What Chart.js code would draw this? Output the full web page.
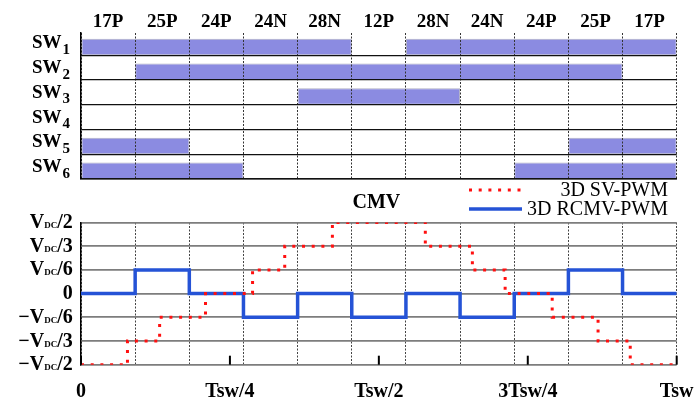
<!DOCTYPE html>
<html>
<head>
<meta charset="utf-8">
<script src="https://cdn.jsdelivr.net/npm/chart.js@4.4.1/dist/chart.umd.min.js"></script>
<style>
  html, body { margin: 0; padding: 0; background: #fff; }
  #wrap { position: relative; width: 696px; height: 399px; overflow: hidden; }
  #wrap canvas { position: absolute; left: 0; top: 0; }
</style>
</head>
<body>
<div id="wrap">
  <canvas id="gates" width="696" height="399"></canvas>
  <canvas id="cmv" width="696" height="399"></canvas>
</div>
<script>
// Space-vector sectors visited during one switching period
const sectorLabels = ['17P', '25P', '24P', '24N', '28N', '12P', '28N', '24N', '24P', '25P', '17P'];

// Switch names (the trailing number is drawn as a subscript)
const switchLabels = ['SW1', 'SW2', 'SW3', 'SW4', 'SW5', 'SW6'];

// Gate state of each switch in each sector (1 = on)
const sw1 = [1, 1, 1, 1, 1, 0, 1, 1, 1, 1, 1];
const sw2 = [0, 1, 1, 1, 1, 1, 1, 1, 1, 1, 0];
const sw3 = [0, 0, 0, 0, 1, 1, 1, 0, 0, 0, 0];
const sw4 = [0, 0, 0, 0, 0, 0, 0, 0, 0, 0, 0];
const sw5 = [1, 1, 0, 0, 0, 0, 0, 0, 0, 1, 1];
const sw6 = [1, 1, 1, 0, 0, 0, 0, 0, 1, 1, 1];
const switchStates = [sw1, sw2, sw3, sw4, sw5, sw6];

// Common-mode voltage, in units of V_DC/6
// 3D SV-PWM: switching instants (fraction of Tsw) and the level that starts there
const svTimes  = [0, 0.078, 0.132, 0.209, 0.288, 0.342, 0.422, 0.578, 0.657, 0.712, 0.791, 0.868, 0.922, 1];
const svLevels = [-3, -2, -1, 0, 1, 2, 3, 2, 1, 0, -1, -2, -3, -3];
// 3D RCMV-PWM: one level per sector
const rcmvLevels = [0, 1, 0, -1, 0, -1, 0, -1, 0, 1, 0];

const cmvTickValues = [3, 2, 1, 0, -1, -2, -3];
const cmvTickLabels = ['V_DC/2', 'V_DC/3', 'V_DC/6', '0', '\u2212V_DC/6', '\u2212V_DC/3', '\u2212V_DC/2'];
const timeTickValues = [0, 0.25, 0.5, 0.75, 1];
const timeTickLabels = ['0', 'Tsw/4', 'Tsw/2', '3Tsw/4', 'Tsw'];
const seriesNames = ['3D SV-PWM', '3D RCMV-PWM'];
const panelTitle = 'CMV';

// ---------------------------------------------------------------
const serif = "'Liberation Serif', 'Times New Roman', serif";
const BAR_COLOR = '#8b8be1';
const SV_COLOR = '#ff1010';
const RCMV_COLOR = '#2553d6';
const BAR_CENTER = 0.665;   // bars sit on the lower part of each row

// Fixed axis box sizes so both panels share the same plot edges
function fixBox(size) {
  return s => {
    if (s.isHorizontal()) s.height = size; else s.width = size;
    s.paddingLeft = s.paddingRight = s.paddingTop = s.paddingBottom = 0;
  };
}

// Contiguous "on" intervals of a gate signal, as [startSector, endSector]
function onIntervals(states) {
  const runs = [];
  let start = null;
  states.forEach((s, k) => {
    if (s && start === null) start = k;
    if (!s && start !== null) { runs.push([start, k]); start = null; }
  });
  if (start !== null) runs.push([start, states.length]);
  return runs;
}

const runsPerRow = switchStates.map(onIntervals);
const maxRuns = Math.max(...runsPerRow.map(r => r.length));
const gateDatasets = [];
for (let r = 0; r < maxRuns; r++) {
  const data = [];
  runsPerRow.forEach((runs, row) => {
    if (runs[r]) data.push({ x: runs[r], y: row + BAR_CENTER });
  });
  gateDatasets.push({
    data,
    backgroundColor: BAR_COLOR,
    borderColor: '#b0b0c4',
    borderWidth: 1,
    borderSkipped: false,
    stack: 'gates',
    categoryPercentage: 1,
    barPercentage: 0.67
  });
}

// Switch names with subscript numbers, left of the rows
const rowLabelPlugin = {
  id: 'rowLabels',
  afterDraw(chart) {
    const { ctx, chartArea } = chart;
    const ys = chart.scales.y;
    const xEnd = chartArea.left - 11;
    ctx.save();
    ctx.fillStyle = '#000';
    ctx.textBaseline = 'alphabetic';
    switchLabels.forEach((label, i) => {
      const m = label.match(/^(\D+)(\d+)$/);
      const yc = ys.getPixelForValue(i + 0.5);
      ctx.font = 'bold 15px ' + serif;
      const ws = ctx.measureText(m[2]).width;
      ctx.textAlign = 'left';
      ctx.fillText(m[2], xEnd - ws, yc + 11);
      ctx.font = 'bold 19px ' + serif;
      ctx.textAlign = 'right';
      ctx.fillText(m[1], xEnd - ws - 1, yc + 5.4);
    });
    ctx.restore();
  }
};

new Chart(document.getElementById('gates'), {
  type: 'bar',
  data: { datasets: gateDatasets },
  options: {
    indexAxis: 'y',
    responsive: false,
    animation: false,
    devicePixelRatio: 1,
    layout: { padding: { left: 0, right: 19.3, top: 0, bottom: 220 } },
    plugins: { legend: { display: false }, tooltip: { enabled: false } },
    scales: {
      x: {
        type: 'linear', min: 0, max: sectorLabels.length, stacked: false, position: 'bottom',
        afterBuildTicks: s => { s.ticks = sectorLabels.map((_, k) => ({ value: k })).concat([{ value: sectorLabels.length }]); },
        afterFit: fixBox(0),
        ticks: { display: false },
        grid: { color: '#333', lineWidth: 1, drawTicks: false, z: 1 },
        border: { display: true, color: '#000', width: 1.5, dash: [2, 1.5], z: 1 }
      },
      xTop: {
        type: 'category', labels: sectorLabels, position: 'top', offset: true,
        afterFit: fixBox(33),
        grid: { display: false },
        border: { display: false },
        ticks: { color: '#000', font: { family: serif, size: 19, weight: 'bold' }, padding: -8, maxRotation: 0, autoSkip: false }
      },
      y: {
        type: 'linear', min: 0.1, max: switchLabels.length, reverse: true, offset: false,
        afterBuildTicks: s => { s.ticks = switchLabels.map((_, i) => ({ value: i + 1 })); },
        afterFit: fixBox(81),
        ticks: { display: false },
        grid: { color: '#111', lineWidth: 1.3, drawTicks: false, offset: false, z: 1 },
        border: { display: true, color: '#000', width: 1.5, z: 1 }
      }
    }
  },
  plugins: [rowLabelPlugin]
});

// ---------------------------------------------------------------
// CMV panel
const svPoints = svTimes.map((t, i) => ({ x: t, y: svLevels[i] }));
const rcmvPoints = rcmvLevels.map((v, k) => ({ x: k / rcmvLevels.length, y: v }))
  .concat([{ x: 1, y: rcmvLevels[rcmvLevels.length - 1] }]);

// Level labels such as V_DC/2, with the DC part set small
const levelLabelPlugin = {
  id: 'levelLabels',
  afterDraw(chart) {
    const { ctx, chartArea } = chart;
    const ys = chart.scales.y;
    const xEnd = chartArea.left - 8.3;
    const big = 'bold 20px ' + serif;
    const small = 'bold 9px ' + serif;
    ctx.save();
    ctx.fillStyle = '#000';
    ctx.textBaseline = 'alphabetic';
    ctx.textAlign = 'left';
    cmvTickValues.forEach((v, i) => {
      const parts = cmvTickLabels[i].split(/_(\w+)/);
      let total = 0;
      parts.forEach((p, j) => { ctx.font = j % 2 ? small : big; total += ctx.measureText(p).width; });
      let x = xEnd - total;
      const yb = ys.getPixelForValue(v) + 5.5;
      parts.forEach((p, j) => {
        ctx.font = j % 2 ? small : big;
        ctx.fillText(p, x, yb);
        x += ctx.measureText(p).width;
      });
    });
    ctx.restore();
  }
};

// Short tick marks at the quarter periods, drawn up from the bottom edge
const quarterMarkPlugin = {
  id: 'quarterMarks',
  afterDatasetsDraw(chart) {
    const { ctx, chartArea } = chart;
    const xs = chart.scales.xq;
    ctx.save();
    ctx.strokeStyle = '#000';
    ctx.lineWidth = 2;
    timeTickValues.forEach(v => {
      const x = xs.getPixelForValue(v);
      ctx.beginPath();
      ctx.moveTo(x, chartArea.bottom);
      ctx.lineTo(x, chartArea.bottom - 9);
      ctx.stroke();
    });
    ctx.restore();
  }
};

// Title and legend above the plot
const headerPlugin = {
  id: 'cmvHeader',
  afterDraw(chart) {
    const { ctx, chartArea } = chart;
    ctx.save();
    ctx.fillStyle = '#000';
    ctx.textBaseline = 'alphabetic';
    ctx.textAlign = 'center';
    ctx.font = 'bold 20px ' + serif;
    ctx.fillText(panelTitle, (chartArea.left + chartArea.right) / 2 - 2.5, chartArea.top - 14.5);

    ctx.font = '20px ' + serif;
    chart.data.datasets.forEach((ds, i) => {
      const ly = chartArea.top - 32.5 + i * 19;
      ctx.save();
      ctx.strokeStyle = ds.borderColor;
      ctx.lineWidth = ds.borderWidth;
      ctx.setLineDash(ds.borderDash || []);
      ctx.lineCap = 'butt';
      ctx.beginPath();
      ctx.moveTo(chartArea.right - 207.7, ly);
      ctx.lineTo(chartArea.right - 154.7, ly);
      ctx.stroke();
      ctx.restore();
      ctx.textAlign = 'right';
      ctx.fillText(ds.label, chartArea.right - 8.7, ly + 6.2);
    });
    ctx.restore();
  }
};

new Chart(document.getElementById('cmv'), {
  type: 'line',
  data: {
    datasets: [
      { label: seriesNames[0], data: svPoints, borderColor: SV_COLOR, borderWidth: 3, borderDash: [3, 6.7],
        borderCapStyle: 'butt', stepped: 'before', pointRadius: 0, fill: false },
      { label: seriesNames[1], data: rcmvPoints, borderColor: RCMV_COLOR, borderWidth: 3.5,
        stepped: 'before', pointRadius: 0, fill: false }
    ]
  },
  options: {
    responsive: false,
    animation: false,
    devicePixelRatio: 1,
    layout: { padding: { left: 0, right: 19.3, top: 222.5, bottom: 0 } },
    plugins: { legend: { display: false }, tooltip: { enabled: false } },
    scales: {
      x: {
        type: 'linear', min: 0, max: 1, position: 'bottom',
        afterBuildTicks: s => { s.ticks = sectorLabels.map((_, k) => ({ value: k / sectorLabels.length })).concat([{ value: 1 }]); },
        afterFit: fixBox(0),
        ticks: { display: false },
        grid: { color: '#444', lineWidth: 1, drawTicks: false },
        border: { display: false, dash: [2, 1.5] }
      },
      xq: {
        type: 'linear', axis: 'x', min: 0, max: 1, position: 'bottom',
        afterBuildTicks: s => { s.ticks = timeTickValues.map(v => ({ value: v })); },
        afterFit: fixBox(34.3),
        grid: { display: false },
        border: { display: false },
        ticks: {
          callback: (v, i) => timeTickLabels[i],
          color: '#000', font: { family: serif, size: 20, weight: 'bold' },
          padding: 7.5, maxRotation: 0, autoSkip: false
        }
      },
      y: {
        type: 'linear', min: -3, max: 3,
        afterBuildTicks: s => { s.ticks = cmvTickValues.map(v => ({ value: v })); },
        afterFit: fixBox(81),
        ticks: { display: false },
        grid: { color: '#7d7d7d', lineWidth: 1.7, drawTicks: false },
        border: { display: true, color: '#000', width: 1.5 }
      }
    }
  },
  plugins: [levelLabelPlugin, quarterMarkPlugin, headerPlugin]
});
</script>
</body>
</html>
